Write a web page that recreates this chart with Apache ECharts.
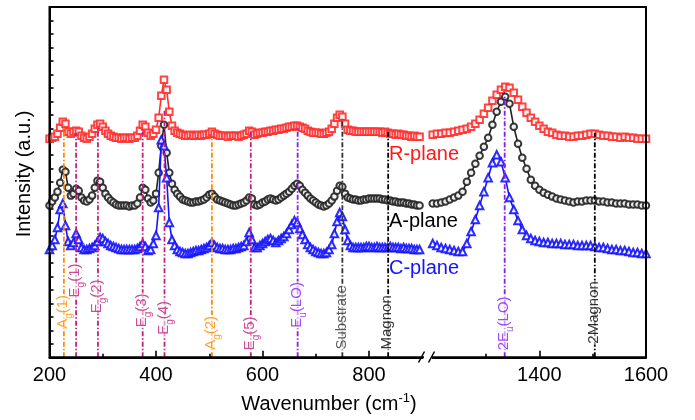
<!DOCTYPE html>
<html><head><meta charset="utf-8">
<script src="https://cdn.jsdelivr.net/npm/echarts@6/dist/echarts.min.js"></script>
<style>html,body{margin:0;padding:0;background:#fff}#c{width:695px;height:420px}</style>
</head><body><div id="c"></div>
<script>
// ---------------- data ----------------
const waveLeft = [200,205,210,215,220,225,230,235,240,245,250,255,260,265,270,275,280,285,290,295,
300,305,310,315,320,325,330,335,340,345,350,355,360,365,370,375,380,385,390,395,
400,405,410,415,420,425,430,435,440,445,450,455,460,465,470,475,480,485,490,495,
500,505,510,515,520,525,530,535,540,545,550,555,560,565,570,575,580,585,590,595,
600,605,610,615,620,625,630,635,640,645,650,655,660,665,670,675,680,685,690,695,
700,705,710,715,720,725,730,735,740,745,750,755,760,765,770,775,780,785,790,795,
800,805,810,815,820,825,830,835,840,845,850,855,860,865,870,875,880,885,890,895];
const waveRight = [1200,1208,1216,1224,1232,1240,1248,1256,1264,1272,1280,1288,1296,1304,1312,1320,1328,1336,1344,1352,
1360,1368,1376,1384,1392,1400,1408,1416,1424,1432,1440,1448,1456,1464,1472,1480,1488,1496,1504,1512,
1520,1528,1536,1544,1552,1560,1568,1576,1584,1592,1600];

const rPlaneLeft = [219,220,221,224,230,236,234,226,224,226, 227,226,222,220,219,221,224,229,233,234,
231,227,224,222,221,220,220,219,220,220, 219,220,220,222,227,233,231,225,222,224,
228,240,262,278,268,246,232,227,225,224, 223,222,222,223,222,222,223,222,223,223,
224,226,224,223,222,222,222,221,222,222, 222,221,222,223,224,227,226,223,224,225,
225,226,226,227,227,228,228,229,229,230, 231,231,232,232,231,230,229,227,226,225,
225,225,224,224,225,226,229,234,240,243, 241,234,228,227,227,226,226,226,226,226,
226,226,226,226,226,225,226,225,224,224, 223,224,223,223,222,222,221,222,221,221];
const aPlaneLeft = [152,156,160,166,175,188,186,170,162,164, 169,167,160,157,156,158,162,170,177,176,
170,164,160,157,155,153,152,152,152,152, 151,152,152,154,160,170,168,159,155,157,
164,185,212,233,205,185,174,168,164,161, 158,157,156,155,155,156,156,157,158,160,
163,164,161,158,157,156,155,154,153,152, 152,153,154,155,157,160,159,153,152,153,
155,156,158,159,158,157,158,160,162,164, 166,169,172,174,172,168,165,162,159,157,
155,153,152,151,152,154,157,161,167,172, 171,164,160,159,158,158,157,157,158,158,
159,159,159,159,159,158,158,157,157,156, 156,155,155,155,154,154,153,153,152,152];
const cPlaneLeft = [108,112,118,130,148,154,132,116,112,115, 124,118,110,108,108,109,110,112,116,120,
119,116,114,112,111,110,109,108,108,108, 108,108,108,109,111,114,111,107,108,114,
122,150,218,212,180,135,118,112,108,106, 105,104,104,105,106,107,107,108,109,110,
112,115,112,110,109,109,108,108,108,109, 109,110,111,112,116,125,118,110,110,112,
114,116,118,119,117,115,117,119,121,124, 128,133,137,135,129,123,118,113,110,108,
106,105,104,104,105,108,113,124,136,145, 141,128,117,112,110,110,110,110,110,111,
111,110,110,111,110,110,110,110,111,110, 110,110,109,110,109,109,109,108,108,108];

const rPlaneRight = [223,224,224,225,225,226,227,228,229,231,234,238,244,250,257,263,268,271,270,265,
258,251,245,240,236,232,229,226,225,223,222,222,221,221,222,222,223,224,224,223,
222,222,221,221,220,221,220,220,219,219,219];
const aPlaneRight = [154,154,155,156,158,160,162,166,176,185,194,202,211,220,233,246,256,261,254,231,
214,200,189,178,172,168,165,163,161,159,158,157,156,155,156,156,157,157,157,156,
156,155,155,154,154,154,153,153,153,152,152];
const cPlaneRight = [114,112,110,109,108,107,106,106,114,126,138,152,166,180,195,203,196,180,160,148,
137,128,122,119,117,116,115,115,114,114,114,113,113,113,112,112,112,112,111,110,
110,109,108,108,107,107,106,105,105,104,104];

const planeNames = ['R-plane','A-plane','C-plane'];

const tickMajorLeft = [200,400,600,800];
const tickMinorLeft = [300,500,700];
const tickMajorRight = [1400,1600];
const tickMinorRight = [1300,1500];

const modeLeft = ['A_g(1)','E_g(1)','E_g(2)','E_g(3)','E_g(4)','A_g(2)','E_g(5)','E_u(LO)','Substrate','Magnon'];
const modeLeftWave = [227,250,291,375,416,505,578,666,750,836];
const modeLeftTop = [232,225,232,229,249,220,227,230,239,226];
const modeRight = ['2E_u(LO)','2Magnon'];
const modeRightWave = [1335,1504];
const modeRightTop = [262,225];

// ---------------- layout / style ----------------
const labelMidLeft = [45.5,77,61,47,39.5,24.5,24,52.5,40,35];
const labelMidRight = [34,45];
const FONT = '"Liberation Sans", Arial, sans-serif';
const ORANGE = '#FF8C00', MAGENTA = '#C2207E', PURPLE = '#8A1CF0';
const planeColors = ['#FF3030', '#222222', '#1414FF'];
const planeSymbols = ['emptyRect', 'emptyCircle', 'emptyTriangle'];

function modeColor(l) {
  if (l.startsWith('A_')) return ORANGE;
  if (l.includes('E_g')) return MAGENTA;
  if (l.includes('E_u')) return PURPLE;
  if (l === 'Substrate') return '#333';
  return '#000';
}
function richText(l) {
  const m = l.match(/^(.*?)_(\w)(.*)$/);
  if (!m) return '{b|' + l + '}';
  return '{b|' + m[1] + '}{s|' + m[2] + '}{b|' + m[3] + '}';
}
const zip = (xs, ys) => xs.map((x, i) => [x, ys[i]]);

const G_LEFT = 49.5, G_RIGHT = 646, G_TOP = 7, G_H = 350.3;
const grids = [
  {left: G_LEFT, top: G_TOP, width: 372.75, height: G_H},
  {left: 432.7, top: G_TOP, width: G_RIGHT - 432.7, height: G_H}
];
grids.forEach(g => { g.outerBoundsMode = 'none'; g.containLabel = false; });

const axLine = {show: true, onZero: false, lineStyle: {color: '#000', width: 2}};
function xMain(gi, min, max, major) {
  return {type: 'value', gridIndex: gi, min, max, position: 'bottom',
    axisLine: axLine,
    axisTick: {show: true, inside: true, length: 6.5, customValues: major, lineStyle: {color: '#000', width: 1.6}},
    axisLabel: {show: true, customValues: major, fontSize: 20, color: '#000', fontFamily: FONT, margin: 8,
      formatter: v => String(v)},
    splitLine: {show: false}};
}
function xMinor(gi, min, max, minor) {
  return {type: 'value', gridIndex: gi, min, max, position: 'bottom',
    axisLine: {show: false, onZero: false},
    axisTick: {show: true, inside: true, length: 3.5, customValues: minor, lineStyle: {color: '#000', width: 1.6}},
    axisLabel: {show: false}, splitLine: {show: false}};
}

const series = [];
const leftSets = [rPlaneLeft, aPlaneLeft, cPlaneLeft];
const rightSets = [rPlaneRight, aPlaneRight, cPlaneRight];
const symSizes = [6.5, 6.5, 7.5];
[0, 1, 2].forEach(k => {
  [[0, waveLeft, leftSets[k]], [2, waveRight, rightSets[k]]].forEach(([xi, xs, ys]) => {
    series.push({
      type: 'line', name: planeNames[k], xAxisIndex: xi, yAxisIndex: xi === 0 ? 0 : 1,
      data: zip(xs, ys), symbol: planeSymbols[k], symbolSize: symSizes[k], showAllSymbol: true,
      lineStyle: {color: planeColors[k], width: 1.6},
      itemStyle: {color: planeColors[k], borderColor: planeColors[k], borderWidth: 1, opacity: 0.9},
      z: 2 + k, silent: true
    });
  });
});

function addModes(names, waves, tops, mids, xi, yi) {
  names.forEach((l, i) => {
    series.push({
      type: 'line', xAxisIndex: xi, yAxisIndex: yi, data: [[waves[i], 0], [waves[i], tops[i]]],
      symbol: 'none', lineStyle: {color: modeColor(l), width: 1.8, type: [5, 2, 1.5, 2]}, z: 6, silent: true
    });
  });
  series.push({
    type: 'scatter', xAxisIndex: xi, yAxisIndex: yi, symbolSize: 1, silent: true, z: 7,
    itemStyle: {color: 'rgba(0,0,0,0)'},
    data: names.map((l, i) => {
      const c = modeColor(l);
      return {value: [waves[i], mids[i]], label: {
        show: true, position: 'inside', rotate: 90, formatter: richText(l),
        fontSize: 15, color: c, fontFamily: FONT,
        backgroundColor: 'rgba(255,255,255,0.7)', padding: [0, 1, 0, 1],
        rich: {
          b: {fontSize: 15, lineHeight: 17, verticalAlign: 'top', color: c, fontFamily: FONT},
          s: {fontSize: 10, lineHeight: 10, padding: [9, 0, 0, 0], verticalAlign: 'top', color: c, fontFamily: FONT}
        }
      }};
    })
  });
}
addModes(modeLeft, modeLeftWave, modeLeftTop, labelMidLeft, 0, 0);
addModes(modeRight, modeRightWave, modeRightTop, labelMidRight, 2, 1);

const chart = echarts.init(document.getElementById('c'), null, {renderer: 'canvas'});
chart.setOption({
  animation: false,
  backgroundColor: '#fff',
  textStyle: {fontFamily: FONT},
  grid: grids,
  xAxis: [
    xMain(0, 200, 900, tickMajorLeft), xMinor(0, 200, 900, tickMinorLeft),
    xMain(1, 1200, 1600, tickMajorRight), xMinor(1, 1200, 1600, tickMinorRight)
  ],
  yAxis: [
    {type: 'value', gridIndex: 0, min: 0, max: 351, interval: 13.5, position: 'left', axisLine: axLine,
     axisTick: {show: true, inside: true, length: 4, lineStyle: {color: '#000', width: 1.6}},
     axisLabel: {show: false}, splitLine: {show: false}},
    {type: 'value', gridIndex: 1, min: 0, max: 351, position: 'right', axisLine: axLine,
     axisTick: {show: false}, axisLabel: {show: false}, splitLine: {show: false}}
  ],
  series,
  graphic: [
    // plot frame (top and right edges) and axis-break marks
    {type: 'rect', shape: {x: G_LEFT, y: G_TOP, width: G_RIGHT - G_LEFT, height: G_H},
     style: {fill: 'none', stroke: '#000', lineWidth: 2}, z: 100, silent: true},
    {type: 'rect', shape: {x: 424, y: G_TOP + G_H - 3, width: 7.5, height: 6},
     style: {fill: '#fff', stroke: 'none'}, z: 101, silent: true},
    {type: 'line', shape: {x1: 418.5, y1: 362.5, x2: 424.5, y2: 351.5}, style: {stroke: '#000', lineWidth: 1.5}, z: 102},
    {type: 'line', shape: {x1: 428.5, y1: 362.5, x2: 434.5, y2: 351.5}, style: {stroke: '#000', lineWidth: 1.5}, z: 102},
    {type: 'text', x: 24, y: 174, rotation: Math.PI / 2,
     style: {text: 'Intensity (a.u.)', fontSize: 20, fontFamily: FONT, fill: '#000', align: 'center', verticalAlign: 'middle'}},
    {type: 'text', x: 329, y: 403,
     style: {text: '{n|Wavenumber (cm}{p|-1}{n|)}', align: 'center', verticalAlign: 'middle', fill: '#000',
       rich: {n: {fontSize: 20, lineHeight: 22, verticalAlign: 'bottom', fontFamily: FONT, fill: '#000', color: '#000'},
              p: {fontSize: 13, lineHeight: 22, verticalAlign: 'top', padding: [0, 0, 9, 0], fontFamily: FONT, fill: '#000', color: '#000'}}}},
    {type: 'text', x: 389, y: 154, style: {text: planeNames[0], fontSize: 20, fontFamily: FONT, fill: '#FF1A1A', verticalAlign: 'middle'}},
    {type: 'text', x: 389, y: 221, style: {text: planeNames[1], fontSize: 20, fontFamily: FONT, fill: '#000', verticalAlign: 'middle'}},
    {type: 'text', x: 389, y: 268, style: {text: planeNames[2], fontSize: 20, fontFamily: FONT, fill: '#1414FF', verticalAlign: 'middle'}}
  ]
});
</script>
</body></html>
